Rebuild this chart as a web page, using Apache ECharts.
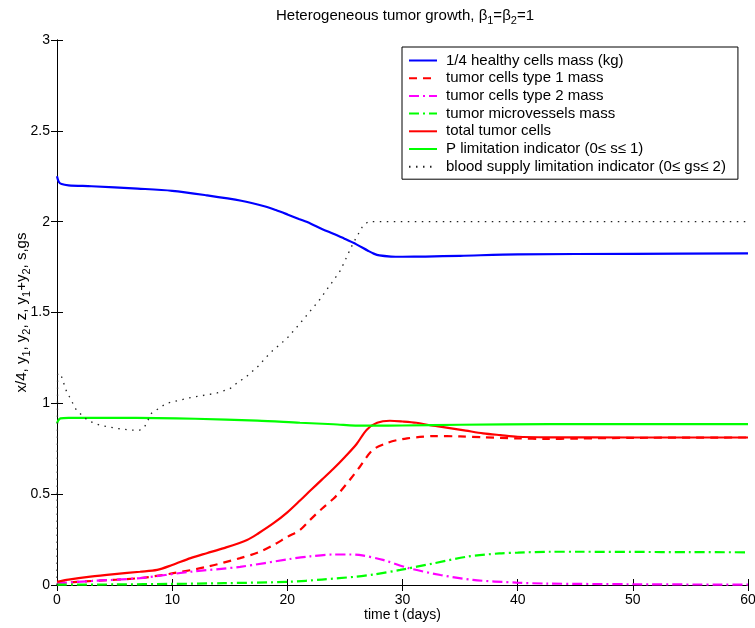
<!DOCTYPE html>
<html>
<head>
<meta charset="utf-8">
<script src="https://cdn.jsdelivr.net/npm/echarts@6/dist/echarts.min.js"></script>
<style>html,body{margin:0;padding:0;background:#fff}#c{width:755px;height:628px}</style>
</head>
<body>
<div id="c"></div>
<script>
// ---- data ----
const xTicks = [0, 10, 20, 30, 40, 50, 60];
const yTicks = [0, 0.5, 1, 1.5, 2, 2.5, 3];

const healthyT = [0, 0.15, 0.4, 1, 3, 7, 10, 13, 16, 18, 19, 20, 21, 22, 23, 24, 25, 26, 27, 27.5, 28, 29, 30, 32, 35, 40, 50, 60];
const healthyV = [2.25, 2.22, 2.207, 2.2, 2.195, 2.182, 2.17, 2.145, 2.115, 2.085, 2.064, 2.04, 2.015, 1.99, 1.96, 1.933, 1.905, 1.875, 1.84, 1.824, 1.814, 1.808, 1.807, 1.808, 1.812, 1.82, 1.823, 1.825];

const type1T = [0, 3, 7.2, 10.1, 13, 15.9, 17.5, 18.8, 20, 21.1, 22, 23, 24, 24.6, 25.5, 26.3, 27.4, 28.6, 29.5, 30.4, 31.5, 32.7, 35, 37, 40, 42.5, 45, 50, 60];
const type1V = [0.01, 0.022, 0.038, 0.065, 0.1, 0.148, 0.18, 0.22, 0.265, 0.303, 0.36, 0.42, 0.475, 0.515, 0.585, 0.651, 0.743, 0.78, 0.797, 0.807, 0.815, 0.82, 0.818, 0.813, 0.807, 0.804, 0.806, 0.81, 0.812];

const type2T = [0, 3, 7.2, 11.6, 15.9, 20.2, 22, 24, 25.5, 26.5, 28.3, 30.6, 33.3, 36.1, 39.9, 42.5, 50, 60];
const type2V = [0.01, 0.022, 0.038, 0.073, 0.1, 0.143, 0.158, 0.168, 0.168, 0.163, 0.138, 0.092, 0.055, 0.028, 0.013, 0.008, 0.004, 0.002];

const vesselT = [0, 5, 10, 14.5, 20.2, 23, 26, 27.5, 29.8, 32.7, 35.6, 38.4, 40, 42.8, 45.4, 50, 55, 60];
const vesselV = [0.002, 0.003, 0.006, 0.01, 0.018, 0.03, 0.046, 0.058, 0.083, 0.119, 0.156, 0.174, 0.178, 0.183, 0.183, 0.182, 0.181, 0.18];

const totalT = [0, 1, 2.9, 5, 7.2, 8.7, 10, 11.6, 13, 14.5, 16.5, 17.5, 18.8, 20, 21.1, 22, 23, 24, 25, 26, 26.9, 27.8, 28.9, 30, 31.2, 32.5, 34.1, 35.5, 37, 38.5, 40, 42.8, 50, 60];
const totalV = [0.018, 0.03, 0.046, 0.06, 0.073, 0.083, 0.11, 0.148, 0.175, 0.203, 0.248, 0.285, 0.34, 0.4, 0.465, 0.52, 0.58, 0.64, 0.705, 0.775, 0.855, 0.893, 0.904, 0.9, 0.893, 0.878, 0.864, 0.85, 0.835, 0.825, 0.816, 0.813, 0.812, 0.812];

const pT = [0, 0.1, 0.3, 1, 5, 8.7, 12, 17.4, 21.1, 24, 26.6, 27.5, 30, 35, 42.8, 60];
const pV = [0.89, 0.905, 0.917, 0.92, 0.92, 0.919, 0.915, 0.905, 0.893, 0.885, 0.877, 0.877, 0.878, 0.882, 0.886, 0.886];

const gsT = [0, 0.05, 0.3, 0.8, 1.7, 2.7, 3.7, 5.2, 6.5, 7.2, 7.6, 8.2, 9.5, 11.5, 13.9, 15, 15.6, 16.5, 17.4, 18.5, 20, 21.1, 22.8, 24.6, 25.7, 26.5, 27, 60];
const gsV = [0, 1.16, 1.165, 1.07, 0.96, 0.905, 0.88, 0.862, 0.852, 0.853, 0.87, 0.945, 1.0, 1.03, 1.057, 1.08, 1.11, 1.15, 1.2, 1.277, 1.36, 1.44, 1.57, 1.73, 1.88, 1.97, 2.0, 2.0];

const seriesNames = [
  '1/4 healthy cells mass (kg)',
  'tumor cells type 1 mass',
  'tumor cells type 2 mass',
  'tumor microvessels mass',
  'total tumor cells',
  'P limitation indicator (0\u2264 s\u2264 1)',
  'blood supply limitation indicator (0\u2264 gs\u2264 2)'
];
// ---------------------------------------

const pairs = (t, v) => t.map((x, i) => [x, v[i]]);
const FONT = "'Liberation Sans', Arial, Helvetica, sans-serif";

function mk(name, t, v, color, type, width, smooth) {
  return {
    name, type: 'line', data: pairs(t, v), showSymbol: false, symbol: 'none',
    smooth: smooth, animation: false, clip: true,
    lineStyle: { color, type, width, cap: 'butt' },
    itemStyle: { color },
    emphasis: { disabled: true }
  };
}

const chart = echarts.init(document.getElementById('c'), null, { renderer: 'canvas' });
const axisCommon = {
  axisLine: { show: true, lineStyle: { color: '#000', width: 1 } },
  axisTick: { show: true, inside: true, length: 6, lineStyle: { color: '#000' } },
  splitLine: { show: false }
};

chart.setOption({
  animation: false,
  backgroundColor: '#fff',
  textStyle: { fontFamily: FONT },
  title: {
    text: 'Heterogeneous tumor growth, \u03b2{s|1}=\u03b2{s|2}=1',
    left: 400, top: 0, textAlign: 'center',
    textStyle: {
      fontFamily: FONT, fontSize: 15, fontWeight: 'normal', color: '#000',
      rich: { s: { fontFamily: FONT, fontSize: 11, padding: [10, 0, 0, 0], color: '#000' } }
    }
  },
  grid: { left: 57, right: 7, top: 40, bottom: 43, containLabel: false, outerBoundsMode: 'none' },
  legend: {
    orient: 'vertical', left: 402, top: 47,
    data: seriesNames,
    itemWidth: 28, itemHeight: 14, itemGap: 2.7,
    padding: [6, 12, 5, 6],
    borderColor: '#000', borderWidth: 1, backgroundColor: '#fff',
    selectedMode: false,
    itemStyle: { opacity: 0 },
    textStyle: { fontFamily: FONT, fontSize: 15, lineHeight: 14, color: '#000', padding: [0, 0, 0, 4] }
  },
  xAxis: [
    Object.assign({
      type: 'value', min: 0, max: 60, interval: 10, position: 'bottom',
      name: 'time t (days)', nameLocation: 'middle', nameGap: 23, nameMoveOverlap: false,
      nameTextStyle: { fontFamily: FONT, fontSize: 14, color: '#000' },
      axisLabel: { fontFamily: FONT, fontSize: 14, color: '#000', margin: 8 }
    }, axisCommon),
    Object.assign({
      type: 'value', min: 0, max: 60, interval: 10, position: 'top',
      axisLabel: { show: false }
    }, axisCommon)
  ],
  yAxis: [
    Object.assign({
      type: 'value', min: 0, max: 3, interval: 0.5, position: 'left',
      name: 'x/4, y{s|1}, y{s|2}, z, y{s|1}+y{s|2}, s,gs', nameLocation: 'middle', nameGap: 25, nameRotate: 90,
      nameMoveOverlap: false,
      nameTextStyle: {
        fontFamily: FONT, fontSize: 15, color: '#000',
        rich: { s: { fontFamily: FONT, fontSize: 11, padding: [10, 0, 0, 0], color: '#000' } }
      },
      axisLabel: { fontFamily: FONT, fontSize: 14, color: '#000', margin: 7 }
    }, axisCommon),
    Object.assign({
      type: 'value', min: 0, max: 3, interval: 0.5, position: 'right',
      axisLabel: { show: false }
    }, axisCommon)
  ],
  series: [
    mk(seriesNames[0], healthyT, healthyV, '#0000ff', 'solid', 2.2, 0.3),
    mk(seriesNames[1], type1T, type1V, '#ff0000', [8, 6], 2.2, 0.3),
    mk(seriesNames[2], type2T, type2V, '#ff00ff', [10, 4, 2, 4], 2.2, 0.3),
    mk(seriesNames[3], vesselT, vesselV, '#00ff00', [10, 4, 2, 4], 2.2, 0.3),
    mk(seriesNames[4], totalT, totalV, '#ff0000', 'solid', 2.2, 0.3),
    mk(seriesNames[5], pT, pV, '#00ff00', 'solid', 2.2, 0.3),
    mk(seriesNames[6], gsT, gsV, '#222222', [1.5, 5.5], 1.3, false)
  ]
});
</script>
</body>
</html>
